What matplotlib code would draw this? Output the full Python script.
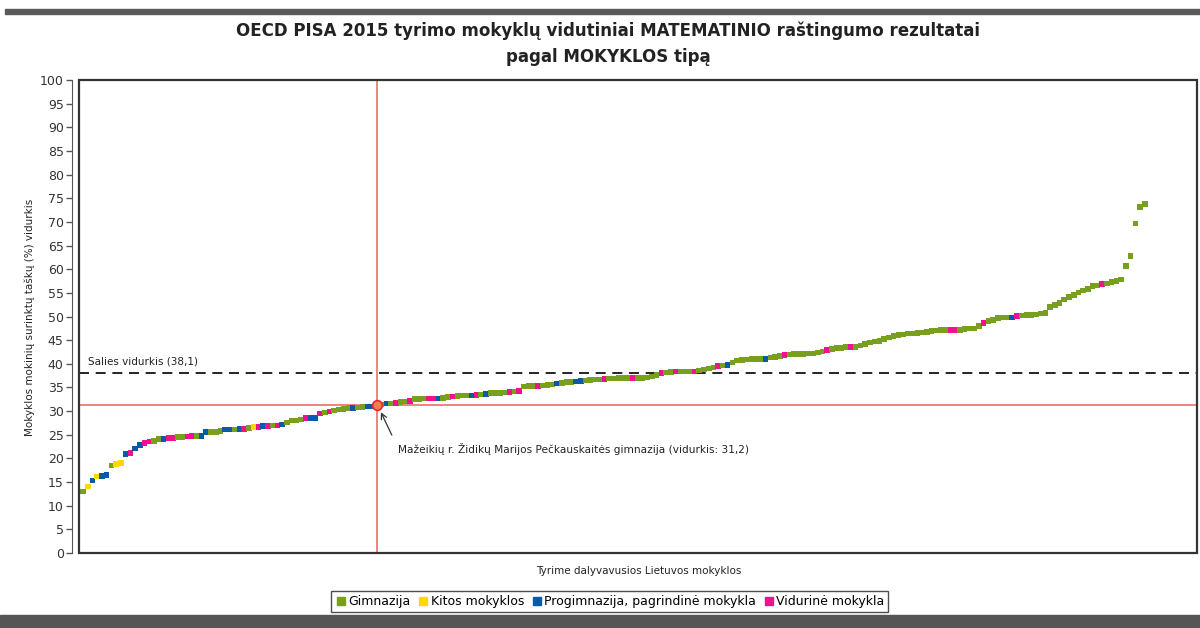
import numpy as np
import matplotlib.pyplot as plt
from matplotlib.lines import Line2D
from matplotlib.patches import Rectangle

plt.rcParams['font.family'] = ['DejaVu Sans']

# school averages (%), sorted ascending
values = [
    13.0, 14.1, 15.3, 16.2, 16.3, 16.5, 18.5, 18.8, 19.0, 20.9,
    21.2, 22.1, 22.8, 23.3, 23.6, 23.7, 24.1, 24.1, 24.3, 24.3,
    24.5, 24.5, 24.6, 24.7, 24.7, 24.7, 25.6, 25.6, 25.6, 25.8,
    26.1, 26.1, 26.1, 26.2, 26.2, 26.4, 26.6, 26.6, 26.8, 26.8,
    27.0, 27.0, 27.2, 27.6, 28.0, 28.0, 28.2, 28.5, 28.5, 28.5,
    29.5, 29.7, 29.9, 30.1, 30.3, 30.4, 30.6, 30.7, 30.8, 30.9,
    31.0, 31.0, 31.2, 31.4, 31.6, 31.6, 31.7, 31.9, 32.0, 32.1,
    32.6, 32.6, 32.7, 32.7, 32.7, 32.7, 32.8, 33.0, 33.1, 33.2,
    33.3, 33.3, 33.3, 33.4, 33.5, 33.6, 33.8, 33.8, 33.8, 33.9,
    34.0, 34.1, 34.2, 35.2, 35.3, 35.3, 35.3, 35.4, 35.5, 35.6,
    35.8, 35.9, 36.1, 36.2, 36.3, 36.4, 36.5, 36.6, 36.7, 36.7,
    36.8, 36.9, 36.9, 37.0, 37.0, 37.0, 37.0, 37.0, 37.0, 37.1,
    37.3, 37.6, 38.0, 38.2, 38.3, 38.4, 38.4, 38.4, 38.4, 38.4,
    38.6, 38.8, 39.0, 39.2, 39.5, 39.6, 39.7, 40.3, 40.7, 40.8,
    40.9, 41.0, 41.0, 41.0, 41.0, 41.3, 41.4, 41.6, 41.9, 42.0,
    42.1, 42.1, 42.1, 42.2, 42.2, 42.4, 42.6, 42.9, 43.1, 43.3,
    43.4, 43.5, 43.5, 43.6, 43.9, 44.2, 44.5, 44.7, 44.8, 45.2,
    45.6, 45.9, 46.1, 46.2, 46.4, 46.4, 46.5, 46.6, 46.7, 46.9,
    47.0, 47.1, 47.1, 47.1, 47.1, 47.2, 47.4, 47.5, 47.5, 48.0,
    48.6, 49.0, 49.3, 49.7, 49.8, 49.8, 49.8, 50.1, 50.2, 50.3,
    50.3, 50.4, 50.6, 50.7, 52.0, 52.4, 52.8, 53.6, 54.1, 54.5,
    55.1, 55.5, 55.8, 56.5, 56.6, 56.9, 57.0, 57.3, 57.5, 57.8,
    60.7, 62.8, 69.7, 73.1, 73.8,
]

# school type per point: G gimnazija, K kitos, P progimnazija, V vidurine
school_type = list(
    "GKPKPPGKKP" "VPPVVGGPVV" "GGVVGPPGGG" "PPGPVGKVPV" "GVPGGGGVPP"
    "VGVGGGGPGG" "PPGGPGVGGV" "GGGVVPGGVG" "GGPVGPGGGG" "VGVGGGVGGG"
    "PGGGPPGGGG" "VGGGGGVGGG" "GGVGGVGGGV" "GGGGVGPGGG" "GGGGPGGGVG"
    "GGGGGGGVGG" "GGVGGGGGGG" "GGGGGGGGGG" "GGGVVGGGGG" "VGGGGGPVGG"
    "GGGGGGGGGG" "GGGGGVGGGG" "GGGGG"
)

type_codes = ["G", "K", "P", "V"]
type_labels = ["Gimnazija", "Kitos mokyklos", "Progimnazija, pagrindinė mokykla", "Vidurinė mokykla"]
type_colors = ["#78a01e", "#ffd800", "#0b5aa8", "#f0128c"]

country_mean = 38.1
school_idx = 62
school_label = "Mažeikių r. Židikų Marijos Pečkauskaitės gimnazija (vidurkis: 31,2)"

color_of = dict(zip(type_codes, type_colors))
x = np.arange(len(values))
vals = np.array(values)

fig = plt.figure(figsize=(12, 6.28), dpi=100)
ax = fig.add_axes([0.0658, 0.1194, 0.9317, 0.7532])

# dark bands at top and bottom
fig.add_artist(Rectangle((5 / 1200, 1 - 14 / 628), 1, 5 / 628, transform=fig.transFigure,
                         color="#5a5a5a", zorder=0))
fig.add_artist(Rectangle((0, 0), 1, 13 / 628, transform=fig.transFigure,
                         color="#555555", zorder=0))

fig.text(0.507, 1 - 31 / 628, "OECD PISA 2015 tyrimo mokyklų vidutiniai MATEMATINIO raštingumo rezultatai",
         ha="center", va="center", fontsize=12, fontweight="bold", color="#222222")
fig.text(0.507, 1 - 57 / 628, "pagal MOKYKLOS tipą",
         ha="center", va="center", fontsize=12, fontweight="bold", color="#222222")

ax.scatter(x, vals, marker="s", s=16, c=[color_of[t] for t in school_type],
           linewidths=0, zorder=3)

ax.axhline(country_mean, color="black", lw=1.2, ls=(0, (6, 4)), zorder=2)
ax.text(1.0, country_mean + 1.4, "Salies vidurkis (38,1)", fontsize=7.5, color="#222222",
        va="bottom", ha="left")

ax.axhline(vals[school_idx], color="#f26b6b", lw=1.2, zorder=2)
ax.axvline(x[school_idx], color="#f26b6b", lw=1.2, zorder=2)
ax.plot(x[school_idx], vals[school_idx], marker="o", ms=7, mfc="#f08050", mec="#e52a2a",
        mew=1.2, zorder=4)

ax.annotate("", xy=(x[school_idx] + 0.6, vals[school_idx] - 0.9),
            xytext=(x[school_idx] + 3.4, vals[school_idx] - 6.8),
            arrowprops=dict(arrowstyle="->", color="#333333", lw=0.9))
ax.text(x[school_idx] + 4.4, vals[school_idx] - 9.2, school_label, fontsize=7.6,
        color="#222222", va="center", ha="left")

ax.set_xlim(-0.85, 235)
ax.set_ylim(0, 100)
ax.set_yticks(np.arange(0, 101, 5))
ax.set_xticks([])
ax.tick_params(axis="y", length=4, width=1, color="#555555", labelcolor="#333333",
               labelsize=9, pad=2)
for side in ["top", "right", "bottom"]:
    ax.spines[side].set_visible(False)
ax.spines["left"].set_position(("outward", 5))
ax.spines["left"].set_color("#555555")
ax.add_patch(Rectangle((0, 0), 1, 1, transform=ax.transAxes, fill=False,
                       edgecolor="#333333", lw=1.6, clip_on=False, zorder=5))

fig.text(30 / 1200, 1 - 317 / 628, "Mokyklos mokinių surinktų taškų (%) vidurkis",
         rotation=90, ha="center", va="center", fontsize=7.5, color="#222222")
fig.text(639 / 1200, 1 - 571 / 628, "Tyrime dalyvavusios Lietuvos mokyklos",
         ha="center", va="center", fontsize=7.5, color="#222222")

handles = [Line2D([], [], marker="s", ls="", ms=6, color=c) for c in type_colors]
leg = fig.legend(handles, type_labels, loc="center", bbox_to_anchor=(0.508, 1 - 601.5 / 628),
                 ncol=4, fontsize=9, frameon=True, fancybox=False, edgecolor="#222222",
                 borderpad=0.3, handletextpad=0.1, columnspacing=0.5, handlelength=1.0,
                 borderaxespad=0)
leg.get_frame().set_linewidth(1.0)

fig.savefig("out.png", dpi=100)
